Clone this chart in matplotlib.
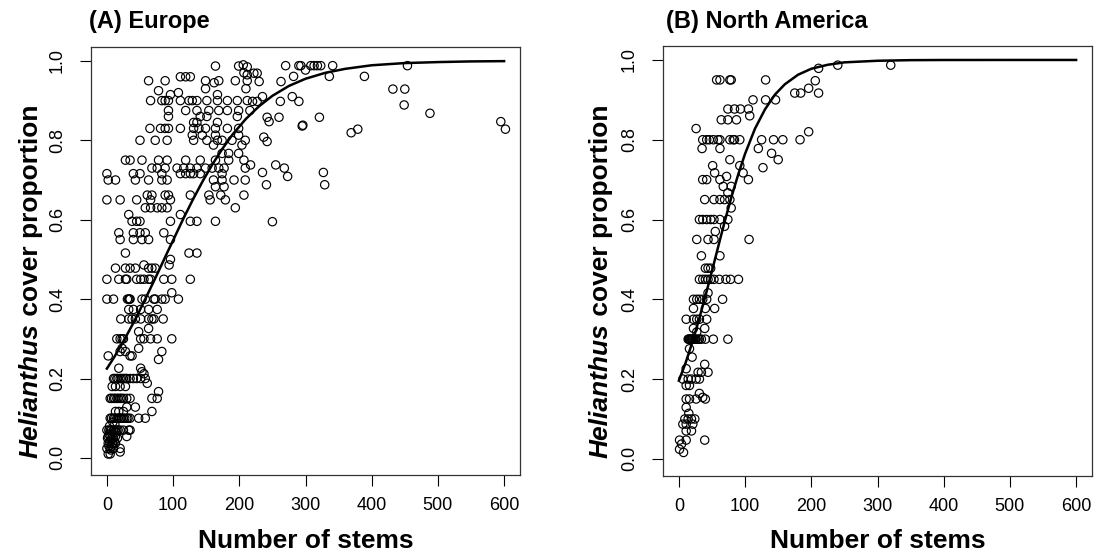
import matplotlib
matplotlib.use('Agg')
import matplotlib.pyplot as plt

plt.rcParams['font.family'] = ['Liberation Sans', 'DejaVu Sans']

# (stems, cover)
europe_pts = [
    (164, 0.987), (199, 0.987), (206, 0.99), (212, 0.985), (207, 0.97), (212, 0.965),
    (111, 0.96), (119, 0.96), (126, 0.96),
    (63, 0.95), (88, 0.95), (149, 0.95), (162, 0.945), (169, 0.95), (194, 0.95), (212, 0.95),
    (78, 0.925), (149, 0.93), (210, 0.93), (96, 0.915), (108, 0.92), (167, 0.915),
    (66, 0.9), (83, 0.9), (88, 0.9), (93, 0.9), (111, 0.9), (124, 0.9), (129, 0.9), (136, 0.9),
    (151, 0.9), (167, 0.9), (182, 0.9), (197, 0.9), (212, 0.9),
    (93, 0.875), (119, 0.875), (136, 0.875), (154, 0.875), (169, 0.875), (182, 0.875), (199, 0.875), (216, 0.875),
    (93, 0.86), (141, 0.86), (151, 0.86), (197, 0.86), (131, 0.845), (136, 0.845), (167, 0.845),
    (65, 0.83), (81, 0.83), (88, 0.83), (93, 0.83), (111, 0.83), (131, 0.83), (139, 0.83), (149, 0.83),
    (164, 0.83), (182, 0.83), (199, 0.83),
    (129, 0.813), (144, 0.813), (164, 0.813), (199, 0.813),
    (50, 0.8), (73, 0.8), (91, 0.8), (131, 0.8), (151, 0.8), (167, 0.8), (174, 0.8), (189, 0.8), (209, 0.8),
    (161, 0.788), (204, 0.788), (174, 0.767), (184, 0.767), (199, 0.767),
    (28, 0.75), (35, 0.75), (53, 0.75), (78, 0.75), (91, 0.75), (119, 0.75), (141, 0.75), (164, 0.75),
    (184, 0.75), (207, 0.75),
    (68, 0.73), (76, 0.73), (88, 0.73), (106, 0.73), (116, 0.73), (126, 0.73), (136, 0.73), (149, 0.73),
    (159, 0.73), (169, 0.73), (177, 0.73), (209, 0.73),
    (0, 0.716), (40, 0.716), (50, 0.716), (83, 0.716), (111, 0.716), (119, 0.716), (126, 0.716),
    (131, 0.716), (141, 0.716), (174, 0.716),
    (2, 0.7), (13, 0.7), (43, 0.7), (63, 0.7), (83, 0.7), (91, 0.7), (161, 0.7), (174, 0.7), (192, 0.7), (209, 0.7),
    (164, 0.683), (177, 0.683),
    (61, 0.662), (68, 0.662), (88, 0.662), (93, 0.662), (126, 0.662), (154, 0.662), (172, 0.662), (207, 0.662),
    (0, 0.65), (20, 0.65), (45, 0.65), (66, 0.65), (96, 0.65), (156, 0.65), (179, 0.65),
    (58, 0.63), (66, 0.63), (76, 0.63), (83, 0.63), (91, 0.63), (194, 0.63), (33, 0.613), (111, 0.613),
    (38, 0.596), (45, 0.596), (50, 0.596), (96, 0.596), (126, 0.596), (136, 0.596), (164, 0.596),
    (18, 0.567), (40, 0.567), (50, 0.567), (58, 0.567), (86, 0.567),
    (20, 0.55), (40, 0.55), (53, 0.55), (63, 0.55), (96, 0.55),
    (28, 0.516), (124, 0.516), (136, 0.516),
    (270, 0.988), (290, 0.988), (293, 0.988), (308, 0.988), (313, 0.988), (318, 0.988), (323, 0.988),
    (341, 0.988), (454, 0.988), (300, 0.977), (222, 0.969), (227, 0.969),
    (282, 0.961), (336, 0.961), (389, 0.961), (230, 0.948), (263, 0.948), (432, 0.929), (450, 0.929),
    (235, 0.91), (280, 0.91), (220, 0.898), (227, 0.898), (262, 0.898), (290, 0.898), (449, 0.889),
    (488, 0.868), (242, 0.858), (260, 0.858), (321, 0.858), (245, 0.847), (595, 0.847),
    (295, 0.836), (296, 0.838), (379, 0.828), (602, 0.828), (369, 0.819), (237, 0.808), (242, 0.797),
    (217, 0.738), (255, 0.738), (268, 0.73), (235, 0.719), (327, 0.719), (273, 0.709),
    (241, 0.688), (329, 0.688), (250, 0.595),
    (96, 0.5), (94, 0.486), (56, 0.486),
    (13, 0.478), (28, 0.478), (35, 0.478), (43, 0.478), (63, 0.478), (68, 0.478), (73, 0.478),
    (0, 0.45), (18, 0.45), (28, 0.45), (30, 0.45), (45, 0.45), (51, 0.45), (56, 0.45), (63, 0.45),
    (66, 0.45), (86, 0.45), (98, 0.45), (126, 0.45), (98, 0.416),
    (0, 0.4), (10, 0.4), (31, 0.4), (33, 0.4), (34, 0.4), (35, 0.4), (53, 0.4), (58, 0.4), (71, 0.4),
    (73, 0.4), (83, 0.4), (88, 0.4), (108, 0.4),
    (33, 0.374), (40, 0.374), (51, 0.374), (63, 0.374), (76, 0.374),
    (21, 0.35), (33, 0.35), (38, 0.35), (43, 0.35), (51, 0.35), (63, 0.35), (68, 0.35), (71, 0.35), (85, 0.35),
    (63, 0.326), (48, 0.318),
    (15, 0.3), (20, 0.3), (23, 0.3), (25, 0.3), (51, 0.3), (56, 0.3), (66, 0.3), (76, 0.3), (98, 0.3),
    (23, 0.276), (48, 0.276), (20, 0.268), (28, 0.268), (83, 0.268),
    (2, 0.257), (35, 0.257), (38, 0.257), (78, 0.248), (18, 0.226), (51, 0.226), (53, 0.217), (56, 0.212),
    (10, 0.2), (15, 0.2), (20, 0.2), (25, 0.2), (30, 0.2), (35, 0.2), (40, 0.2), (45, 0.2), (51, 0.2), (58, 0.2),
    (12, 0.2), (17, 0.2), (22, 0.2), (28, 0.2),
    (61, 0.188), (8, 0.18), (13, 0.18), (20, 0.18), (28, 0.18), (78, 0.167),
    (5, 0.15), (10, 0.15), (15, 0.15), (20, 0.15), (25, 0.15), (30, 0.15), (35, 0.15), (68, 0.15), (76, 0.15),
    (7, 0.15), (12, 0.15), (17, 0.15), (22, 0.15),
    (30, 0.128), (43, 0.128), (13, 0.117), (18, 0.117), (25, 0.117), (68, 0.117),
    (5, 0.1), (7, 0.1), (10, 0.1), (12, 0.1), (15, 0.1), (17, 0.1), (20, 0.1), (22, 0.1), (25, 0.1),
    (27, 0.1), (30, 0.1), (32, 0.1), (35, 0.1), (48, 0.1), (58, 0.1),
    (0, 0.07), (5, 0.07), (10, 0.07), (15, 0.07), (20, 0.07), (25, 0.07), (33, 0.07), (35, 0.07),
    (3, 0.07), (7, 0.07), (12, 0.07), (17, 0.07),
    (2, 0.054), (5, 0.054), (8, 0.054), (13, 0.054), (30, 0.054),
    (2, 0.037), (8, 0.037), (13, 0.037), (0, 0.024), (5, 0.024), (10, 0.024), (20, 0.024),
    (2, 0.01), (20, 0.015), (3, 0.03), (6, 0.045), (8, 0.06), (4, 0.08), (9, 0.09), (11, 0.04),
    (6, 0.02), (1, 0.05), (14, 0.065), (4, 0.04), (7, 0.03), (10, 0.05), (3, 0.06), (9, 0.035),
    (5, 0.01), (12, 0.085), (16, 0.05),
]

america_pts = [
    (57, 0.95), (62, 0.95), (77, 0.95), (79, 0.95), (131, 0.95),
    (112, 0.9), (131, 0.9), (146, 0.9),
    (74, 0.877), (84, 0.877), (93, 0.877), (105, 0.877), (107, 0.86),
    (64, 0.85), (74, 0.85), (87, 0.85), (26, 0.828),
    (36, 0.8), (42, 0.8), (46, 0.8), (52, 0.8), (59, 0.8), (62, 0.8), (77, 0.8), (82, 0.8), (84, 0.8),
    (92, 0.8), (125, 0.8), (143, 0.8),
    (35, 0.778), (62, 0.778), (120, 0.778), (140, 0.766), (77, 0.75), (150, 0.75),
    (51, 0.735), (92, 0.735), (127, 0.73), (54, 0.717), (97, 0.717), (72, 0.708),
    (36, 0.7), (42, 0.7), (62, 0.7), (105, 0.7), (67, 0.683), (79, 0.683), (74, 0.667),
    (39, 0.65), (53, 0.65), (62, 0.65), (69, 0.65), (77, 0.65), (79, 0.629),
    (31, 0.6), (36, 0.6), (42, 0.6), (48, 0.6), (53, 0.6), (62, 0.6), (74, 0.6),
    (69, 0.583), (55, 0.57), (27, 0.55), (44, 0.55), (53, 0.55), (106, 0.55),
    (211, 0.979), (240, 0.987), (320, 0.987), (206, 0.948), (196, 0.929),
    (175, 0.917), (184, 0.917), (211, 0.917), (196, 0.82), (183, 0.8), (157, 0.8),
    (34, 0.509), (62, 0.509), (40, 0.478), (44, 0.478), (48, 0.478),
    (31, 0.45), (36, 0.45), (40, 0.45), (44, 0.45), (48, 0.45), (53, 0.45), (61, 0.45), (71, 0.45),
    (78, 0.45), (90, 0.45), (44, 0.416),
    (22, 0.4), (27, 0.4), (31, 0.4), (36, 0.4), (42, 0.4), (66, 0.4),
    (22, 0.377), (40, 0.377), (54, 0.377),
    (11, 0.35), (22, 0.35), (27, 0.35), (31, 0.35), (42, 0.35), (22, 0.327), (39, 0.327), (27, 0.318),
    (14, 0.3), (15, 0.3), (16, 0.3), (17.5, 0.3), (19, 0.3), (20, 0.3), (21, 0.3), (22.5, 0.3), (24, 0.3),
    (25, 0.3), (26, 0.3), (29, 0.3), (31, 0.3), (34, 0.3), (40, 0.3), (52, 0.3), (74, 0.3),
    (16, 0.276), (20, 0.255), (39, 0.237), (11, 0.226), (29, 0.217), (34, 0.217), (44, 0.217),
    (6, 0.2), (14, 0.2), (19, 0.2), (26, 0.2), (31, 0.2), (11, 0.184), (16, 0.184), (31, 0.164), (36, 0.154),
    (11, 0.15), (16, 0.15), (26, 0.15), (40, 0.15), (11, 0.129), (15, 0.114),
    (9, 0.1), (14, 0.1), (19, 0.1), (24, 0.1), (6, 0.087), (11, 0.087), (21, 0.087),
    (11, 0.07), (19, 0.07), (1, 0.047), (11, 0.047), (39, 0.047), (4, 0.037), (1, 0.024), (7, 0.016),
]

# fitted curves, read at a set of stem counts
europe_fit_x = [0, 10, 20, 30, 40, 50, 60, 70, 80, 90, 100, 115, 130, 145, 160, 175, 190,
                210, 230, 250, 275, 300, 330, 360, 400, 450, 500, 550, 600]
europe_fit_y = [0.225, 0.251, 0.279, 0.309, 0.340, 0.373, 0.407, 0.442, 0.477, 0.513, 0.548,
                0.601, 0.651, 0.698, 0.741, 0.780, 0.815, 0.854, 0.886, 0.912, 0.937, 0.955,
                0.970, 0.980, 0.989, 0.9945, 0.997, 0.9987, 0.9994]
america_fit_x = [0, 10, 20, 30, 40, 50, 60, 70, 80, 90, 100, 115, 130, 145, 160, 180, 200,
                 225, 250, 300, 350, 400, 500, 600]
america_fit_y = [0.196, 0.240, 0.291, 0.347, 0.408, 0.471, 0.536, 0.600, 0.660, 0.715, 0.765,
                 0.828, 0.876, 0.913, 0.939, 0.963, 0.978, 0.988, 0.994, 0.998, 0.9995,
                 0.9999, 1.0, 1.0]

x_ticks = [0, 100, 200, 300, 400, 500, 600]
y_ticks = [0.0, 0.2, 0.4, 0.6, 0.8, 1.0]
y_ticklabels = ['0.0', '0.2', '0.4', '0.6', '0.8', '1.0']

W, H = 1099, 553
fig = plt.figure(figsize=(W / 100, H / 100), dpi=100)


def px_axes(left, top, right, bottom):
    return fig.add_axes([left / W, 1 - bottom / H, (right - left) / W, (bottom - top) / H])


panels = [
    (px_axes(91, 47, 520, 475), europe_pts, europe_fit_x, europe_fit_y, '(A) Europe', 89, 31),
    (px_axes(663, 46, 1092, 476), america_pts, america_fit_x, america_fit_y, '(B) North America', 666, 601),
]

renderer = fig.canvas.get_renderer()

for ax, pts, fx, fy, title, title_x, ylab_x in panels:
    xs = [p[0] for p in pts]
    ys = [p[1] for p in pts]
    ax.scatter(xs, ys, s=36, facecolors='none', edgecolors='black', linewidths=0.85, zorder=2)
    ax.plot(fx, fy, color='black', lw=1.8, zorder=3)
    ax.set_xlim(-24, 624)
    ax.set_ylim(-0.043, 1.035)
    ax.set_xticks(x_ticks)
    ax.set_yticks(y_ticks)
    ax.set_yticklabels(y_ticklabels, rotation=90, va='center')
    ax.tick_params(length=8, width=0.8, labelsize=13, colors='black')
    ax.tick_params(axis='x', pad=8)
    ax.tick_params(axis='y', pad=10)
    for sp in ax.spines.values():
        sp.set_color('#333333')
        sp.set_linewidth(0.9)

    fig.text(title_x / W, 1 - 28 / H, title, fontsize=17, fontweight='bold', va='baseline', ha='left')

    pos = ax.get_position()
    fig.text(pos.x0 + pos.width / 2, 1 - 548 / H, 'Number of stems', fontsize=19,
             fontweight='bold', ha='center', va='baseline')

    # y label: italic genus name followed by plain bold text
    t1 = fig.text(ylab_x / W, 0.5, 'Helianthus', fontsize=19, fontweight='bold', fontstyle='italic',
                  rotation=90, ha='center', va='bottom')
    t2 = fig.text(ylab_x / W, 0.5, ' cover proportion', fontsize=19, fontweight='bold',
                  rotation=90, ha='center', va='bottom')
    h1 = t1.get_window_extent(renderer).height
    h2 = t2.get_window_extent(renderer).height
    y_start = (H - 281) - (h1 + h2) / 2
    t1.set_y(y_start / H)
    t2.set_y((y_start + h1) / H)

fig.savefig('out.png', dpi=100)
